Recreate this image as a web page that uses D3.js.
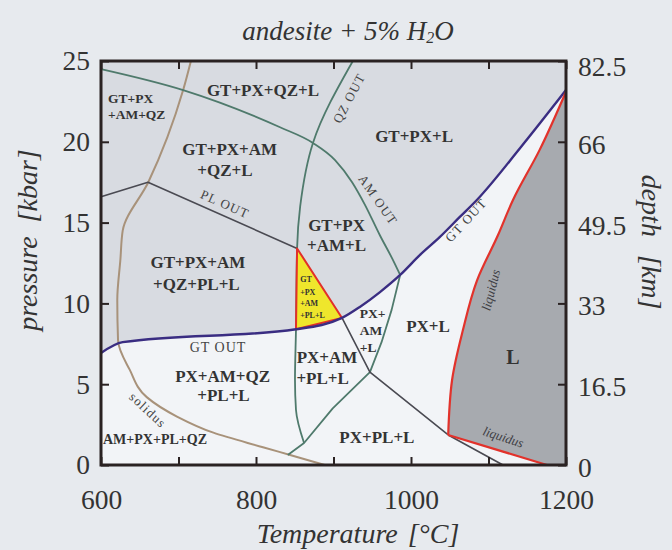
<!DOCTYPE html>
<html>
<head>
<meta charset="utf-8">
<script src="https://cdn.jsdelivr.net/npm/d3@7"></script>
<style>
  body { margin: 0; background: #e7eaee; }
  svg { display: block; font-family: "Liberation Serif", "Times New Roman", serif; }
</style>
</head>
<body>
<svg id="chart" width="672" height="550"></svg>
<script>
// axis values
var tempTicks = [600, 700, 800, 900, 1000, 1100, 1200];
var tempLabels = [600, 800, 1000, 1200];
var pressTicks = [0, 5, 10, 15, 20, 25];
var depthLabels = ["0", "16.5", "33", "49.5", "66", "82.5"];

// phase boundaries, [T degC, P kbar]
var solidus = [[716, 25], [706, 23.2], [661, 17.5], [628, 14.5], [625, 12.7], [621, 10.2], [622, 7.7],
  [637, 5.9], [659, 4.2], [698, 3.0], [745, 2.0], [809, 1.1], [844, 0.62], [889, 0]];
var gtOut = [[600, 6.93], [628, 7.6], [851.6, 8.4], [911, 9.1], [934, 9.78], [960, 10.7], [986, 11.76],
  [1011.6, 13.0], [1037, 14.1], [1063, 15.35], [1085, 16.4], [1140.6, 19.6], [1200, 23.2]];
var liquidus = [[1200, 23.1], [1166, 19.5], [1131.6, 16.4], [1112, 14.2], [1085, 11.4], [1067, 8.35],
  [1053, 5.26], [1048, 1.86]];
var liquidusLow = [[1048, 1.86], [1175.5, 0]];
var qzOut = [[925, 25], [873.5, 19.93], [857, 16.0], [853, 13.4], [851.6, 8.4], [850.3, 5.26], [851.6, 3.4], [862, 1.36]];
var amOutUpper = [[600, 24.5], [706, 23.2], [831, 20.9], [873.5, 19.93], [902, 18.87], [924, 17.5],
  [940.6, 16.1], [960, 14.2], [975.5, 12.8], [986, 11.76]];
var amOutLower = [[986, 11.76], [975, 9.6], [962, 7.6], [947, 5.75], [899, 3.5], [862, 1.36], [841, 0.62]];
var plOut = [[600, 16.6], [660.6, 17.5], [853, 13.4]];
var plOutLow = [[911, 9.1], [947, 5.75], [1048, 1.86], [1118.7, 0]];
var triangle = [[853, 13.4], [851.6, 8.4], [911, 9.1]];

// field labels [text, T, P]
var bigLabels = [
  ["GT+PX+QZ+L", 809, 23.2], ["GT+PX+AM", 766, 19.5], ["+QZ+L", 760, 18.25], ["GT+PX+L", 1004, 20.3],
  ["GT+PX", 904, 14.85], ["+AM+L", 904, 13.6], ["GT+PX+AM", 725, 12.56], ["+QZ+PL+L", 723, 11.2],
  ["PX+AM+QZ", 757, 5.45], ["+PL+L", 758, 4.27], ["PX+AM", 891.6, 6.68], ["+PL+L", 886, 5.38],
  ["PX+L", 1022, 8.54], ["PX+PL+L", 956, 1.73]
];
var smallLabels = [["GT+PX", 609, 22.7], ["+AM+QZ", 609, 21.7], ["PX+", 934, 9.4], ["AM", 934, 8.35], ["+L", 934, 7.3]];
var tinyLabels = [["GT", 857, 11.45], ["+PX", 857, 10.7], ["+AM", 857, 10.0], ["+PL+L", 857, 9.28]];
// line labels [text, T, P, angle]
var lineLabels = [["PL OUT", 760, 16.15, 24], ["QZ OUT", 920, 22.7, -62], ["AM OUT", 957.4, 16.4, 55],
  ["GT OUT", 1071, 15.16, -47], ["solidus", 660.6, 3.4, 43]];
var liqLabels = [["liquidus", 1103, 10.83, -76], ["liquidus", 1119, 1.73, 18]];

var svg = d3.select("#chart");
var x = d3.scaleLinear().domain([600, 1200]).range([101, 566]);
var y = d3.scaleLinear().domain([0, 25]).range([465, 61]);

var lin = d3.line().x(function(d) { return x(d[0]); }).y(function(d) { return y(d[1]); });
var monoX = d3.line().x(function(d) { return x(d[0]); }).y(function(d) { return y(d[1]); }).curve(d3.curveMonotoneX);
var monoY = d3.line().x(function(d) { return x(d[0]); }).y(function(d) { return y(d[1]); }).curve(d3.curveMonotoneY);

// plot background
svg.append("rect").attr("x", x(600)).attr("y", y(25)).attr("width", x(1200) - x(600)).attr("height", y(0) - y(25))
  .attr("fill", "#f2f4f7");

// garnet field (above GT OUT)
svg.append("path")
  .attr("d", monoX(gtOut) + "L" + x(1200) + "," + y(25) + "L" + x(600) + "," + y(25) + "Z")
  .attr("fill", "#d8dbe1");

// liquid field
svg.append("path")
  .attr("d", monoY(liquidus) + "L" + x(1175.5) + "," + y(0) + "L" + x(1200) + "," + y(0) + "Z")
  .attr("fill", "#a7aaaf");

function stroke(d, color, w) {
  svg.append("path").attr("d", d).attr("fill", "none").attr("stroke", color).attr("stroke-width", w)
    .attr("stroke-linejoin", "round");
}
stroke(monoY(solidus), "#a8927a", 2);
stroke(monoY(qzOut), "#4f7a6c", 1.8);
stroke(monoX(amOutUpper), "#4f7a6c", 1.8);
stroke(lin(amOutLower), "#4f7a6c", 1.8);
stroke(lin(plOut), "#4a4a52", 1.6);
stroke(lin(plOutLow), "#4a4a52", 1.6);

svg.append("path").attr("d", lin(triangle) + "Z").attr("fill", "#efe62c")
  .attr("stroke", "#e2302a").attr("stroke-width", 2).attr("stroke-linejoin", "round");

stroke(monoX(gtOut), "#3a2d82", 2.4);
stroke(monoY(liquidus), "#e2322b", 2.2);
stroke(lin(liquidusLow), "#e2322b", 2.2);

// frame
svg.append("rect").attr("x", x(600)).attr("y", y(25)).attr("width", x(1200) - x(600)).attr("height", y(0) - y(25))
  .attr("fill", "none").attr("stroke", "#2a2222").attr("stroke-width", 3);

// axes, inward ticks
function styleAxis(g) {
  g.select(".domain").remove();
  g.selectAll(".tick line").attr("stroke", "#2a2222").attr("stroke-width", 2);
  g.selectAll(".tick text").attr("fill", "#333").style("font-size", "27.5px")
    .style("font-family", '"Liberation Serif", "Times New Roman", serif');
}
svg.append("g").attr("transform", "translate(0," + y(0) + ")")
  .call(d3.axisBottom(x).tickValues(tempTicks).tickSize(-8).tickPadding(24)
    .tickFormat(function(d) { return tempLabels.indexOf(d) >= 0 ? d : ""; }))
  .call(styleAxis);
svg.append("g").attr("transform", "translate(0," + y(25) + ")")
  .call(d3.axisTop(x).tickValues(tempTicks).tickSize(-8).tickFormat(""))
  .call(styleAxis);
svg.append("g").attr("transform", "translate(" + x(600) + ",0)")
  .call(d3.axisLeft(y).tickValues(pressTicks).tickSize(-8).tickPadding(11))
  .call(styleAxis);
svg.append("g").attr("transform", "translate(" + x(1200) + ",0)")
  .call(d3.axisRight(y).tickValues(pressTicks).tickSize(-8).tickPadding(12)
    .tickFormat(function(d, i) { return depthLabels[i]; }))
  .call(styleAxis)
  .selectAll(".tick text").attr("dy", function(d) { return d === 25 ? "0.52em" : "0.42em"; });

// axis titles
svg.append("text").attr("x", 348).attr("y", 31).attr("text-anchor", "middle").attr("dominant-baseline", "central")
  .attr("fill", "#333").style("font-size", "27px").style("font-style", "italic")
  .call(function(t) {
    t.append("tspan").text("andesite + 5% H");
    t.append("tspan").text("2").style("font-size", "16px").attr("dy", 6);
    t.append("tspan").text("O").attr("dy", -6);
  });
svg.append("text").attr("x", 358).attr("y", 533).attr("text-anchor", "middle").attr("dominant-baseline", "central")
  .attr("fill", "#333").style("font-size", "28px").style("font-style", "italic")
  .call(function(t) {
    t.append("tspan").text("Temperature");
    t.append("tspan").attr("dx", 10).text("[°C]");
  });
svg.append("text").attr("transform", "translate(27,240) rotate(-90)").attr("text-anchor", "middle")
  .attr("dominant-baseline", "central").attr("fill", "#333").style("font-size", "28px").style("font-style", "italic")
  .call(function(t) {
    t.append("tspan").text("pressure");
    t.append("tspan").attr("dx", 14).text("[kbar]");
  });
svg.append("text").attr("transform", "translate(652,242) rotate(90)").attr("text-anchor", "middle")
  .attr("dominant-baseline", "central").attr("fill", "#333").style("font-size", "28px").style("font-style", "italic")
  .call(function(t) {
    t.append("tspan").text("depth");
    t.append("tspan").attr("dx", 18).text("[km]");
  });

// field labels
function labels(data, size, anchor) {
  svg.append("g").selectAll("text").data(data).enter().append("text")
    .attr("x", function(d) { return x(d[1]); }).attr("y", function(d) { return y(d[2]); })
    .attr("text-anchor", anchor).attr("dominant-baseline", "central")
    .attr("fill", "#333").style("font-weight", "bold").style("font-size", size)
    .text(function(d) { return d[0]; });
}
labels(bigLabels, "17px", "middle");
labels(smallLabels, "13.5px", "start");
labels(tinyLabels, "8px", "start");
labels([["AM+PX+PL+QZ", 669.7, 1.55]], "14px", "middle");
labels([["L", 1131.6, 6.68]], "20px", "middle");

svg.append("text").attr("x", x(751)).attr("y", y(7.3)).attr("text-anchor", "middle").attr("dominant-baseline", "central")
  .attr("fill", "#444").style("font-size", "14px").style("letter-spacing", "1px").text("GT OUT");

svg.append("g").selectAll("text").data(lineLabels).enter().append("text")
  .attr("transform", function(d) { return "translate(" + x(d[1]) + "," + y(d[2]) + ") rotate(" + d[3] + ")"; })
  .attr("text-anchor", "middle").attr("dominant-baseline", "central")
  .attr("fill", "#444").style("font-size", "13px").style("letter-spacing", "1.2px")
  .text(function(d) { return d[0]; });

svg.append("g").selectAll("text").data(liqLabels).enter().append("text")
  .attr("transform", function(d) { return "translate(" + x(d[1]) + "," + y(d[2]) + ") rotate(" + d[3] + ")"; })
  .attr("text-anchor", "middle").attr("dominant-baseline", "central")
  .attr("fill", "#3e3e44").style("font-size", "13px").style("font-style", "italic")
  .text(function(d) { return d[0]; });
</script>
</body>
</html>
